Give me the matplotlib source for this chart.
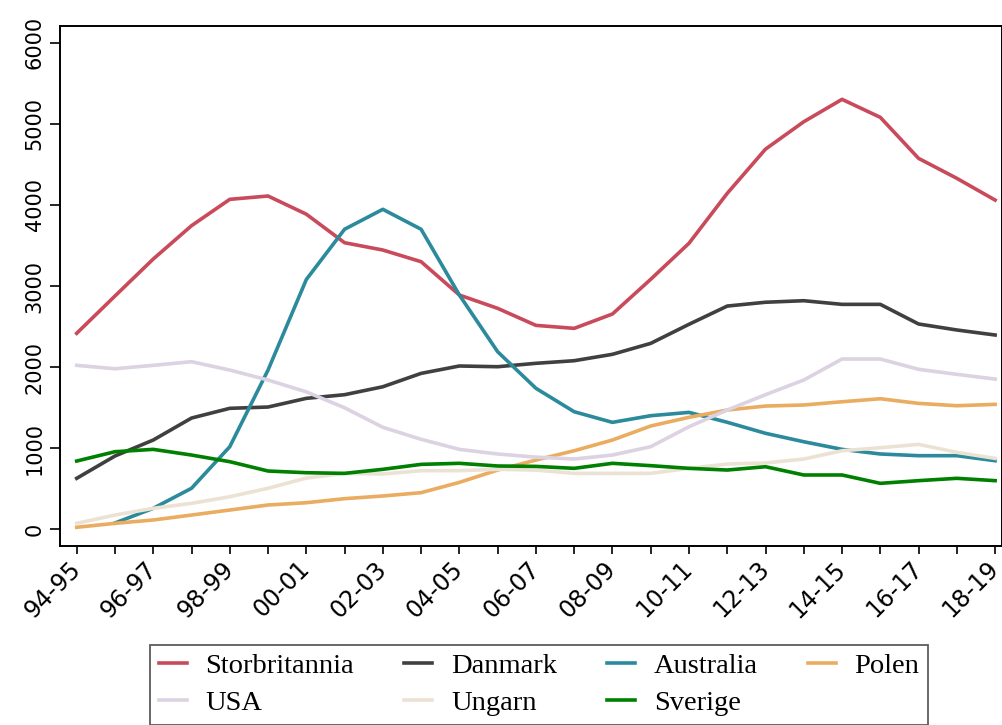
import matplotlib
matplotlib.use("Agg")
import matplotlib.pyplot as plt
import numpy as np

years = ["94-95", "95-96", "96-97", "97-98", "98-99", "99-00", "00-01", "01-02",
         "02-03", "03-04", "04-05", "05-06", "06-07", "07-08", "08-09", "09-10",
         "10-11", "11-12", "12-13", "13-14", "14-15", "15-16", "16-17", "17-18", "18-19"]

storbritannia = [2417, 2877, 3333, 3744, 4069, 4110, 3886, 3534, 3444, 3300, 2889, 2725,
                 2515, 2478, 2655, 3083, 3527, 4143, 4688, 5026, 5302, 5080, 4574, 4328, 4060]
danmark = [629, 904, 1101, 1372, 1492, 1508, 1615, 1660, 1758, 1923, 2014, 2005,
           2047, 2079, 2158, 2293, 2528, 2753, 2800, 2819, 2774, 2774, 2532, 2458, 2396]
australia = [np.nan, 78, 259, 506, 1019, 1964, 3080, 3700, 3946, 3700, 2889, 2190,
             1739, 1450, 1319, 1401, 1442, 1320, 1184, 1080, 986, 929, 908, 908, 846]
polen = [25, 74, 115, 176, 238, 300, 328, 378, 411, 452, 579, 731,
         854, 969, 1101, 1274, 1381, 1471, 1520, 1533, 1573, 1610, 1553, 1524, 1541]
usa = [2022, 1980, 2022, 2067, 1964, 1841, 1695, 1499, 1258, 1110, 986, 929,
       890, 867, 916, 1019, 1265, 1471, 1660, 1841, 2100, 2100, 1973, 1911, 1853]
ungarn = [74, 176, 259, 320, 402, 506, 632, 690, 682, 723, 723, 740,
          730, 690, 690, 690, 752, 805, 818, 867, 969, 1006, 1048, 949, 875]
sverige = [842, 957, 986, 916, 834, 719, 698, 690, 740, 801, 814, 781,
           776, 752, 814, 785, 752, 731, 772, 670, 670, 567, 600, 629, 600]

series = {
    "Storbritannia": (storbritannia, "#c94a5a"),
    "Danmark": (danmark, "#404040"),
    "Australia": (australia, "#2b8a9b"),
    "Polen": (polen, "#e9ac60"),
    "USA": (usa, "#dcd2e2"),
    "Ungarn": (ungarn, "#ece2d3"),
    "Sverige": (sverige, "#008000"),
}
legend_order = ["Storbritannia", "USA", "Danmark", "Ungarn", "Australia", "Sverige", "Polen"]

fig = plt.figure(figsize=(10.03, 7.25), dpi=100)
ax = fig.add_axes([0.0598, 0.2473, 0.9392, 0.7168])

x = np.arange(len(years))
handles = {}
for name, (vals, col) in series.items():
    h, = ax.plot(x, vals, color=col, lw=2.6, label=name)
    handles[name] = h

ax.set_xlim(-0.437, 24.18)
ax.set_ylim(-202, 6206)
ax.set_yticks(np.arange(0, 6001, 1000))
ax.set_yticklabels([str(v) for v in range(0, 6001, 1000)], rotation=90, va="center",
                   fontsize=15, family="DejaVu Sans")
ax.set_xticks(x)
ax.set_xticklabels([y if i % 2 == 0 else "" for i, y in enumerate(years)],
                   rotation=45, ha="right", va="center", rotation_mode="anchor",
                   fontsize=17, family="DejaVu Sans")
ax.tick_params(axis="y", length=7, width=1.2, pad=4)
ax.tick_params(axis="x", length=6, width=1.2, pad=8)
for s in ax.spines.values():
    s.set_linewidth(1.4)

leg = fig.legend(handles=[handles[n] for n in legend_order], loc="upper left",
                 bbox_to_anchor=(0.1496, 0.111), borderaxespad=0,
                 ncol=4, frameon=True, fancybox=False, edgecolor="#333333",
                 prop={"family": "Liberation Serif", "size": 20.5},
                 handlelength=1.0, handletextpad=0.65, columnspacing=1.75,
                 labelspacing=0.4, borderpad=0.3)
leg.get_frame().set_linewidth(1.3)

fig.savefig("out.png", dpi=100)
